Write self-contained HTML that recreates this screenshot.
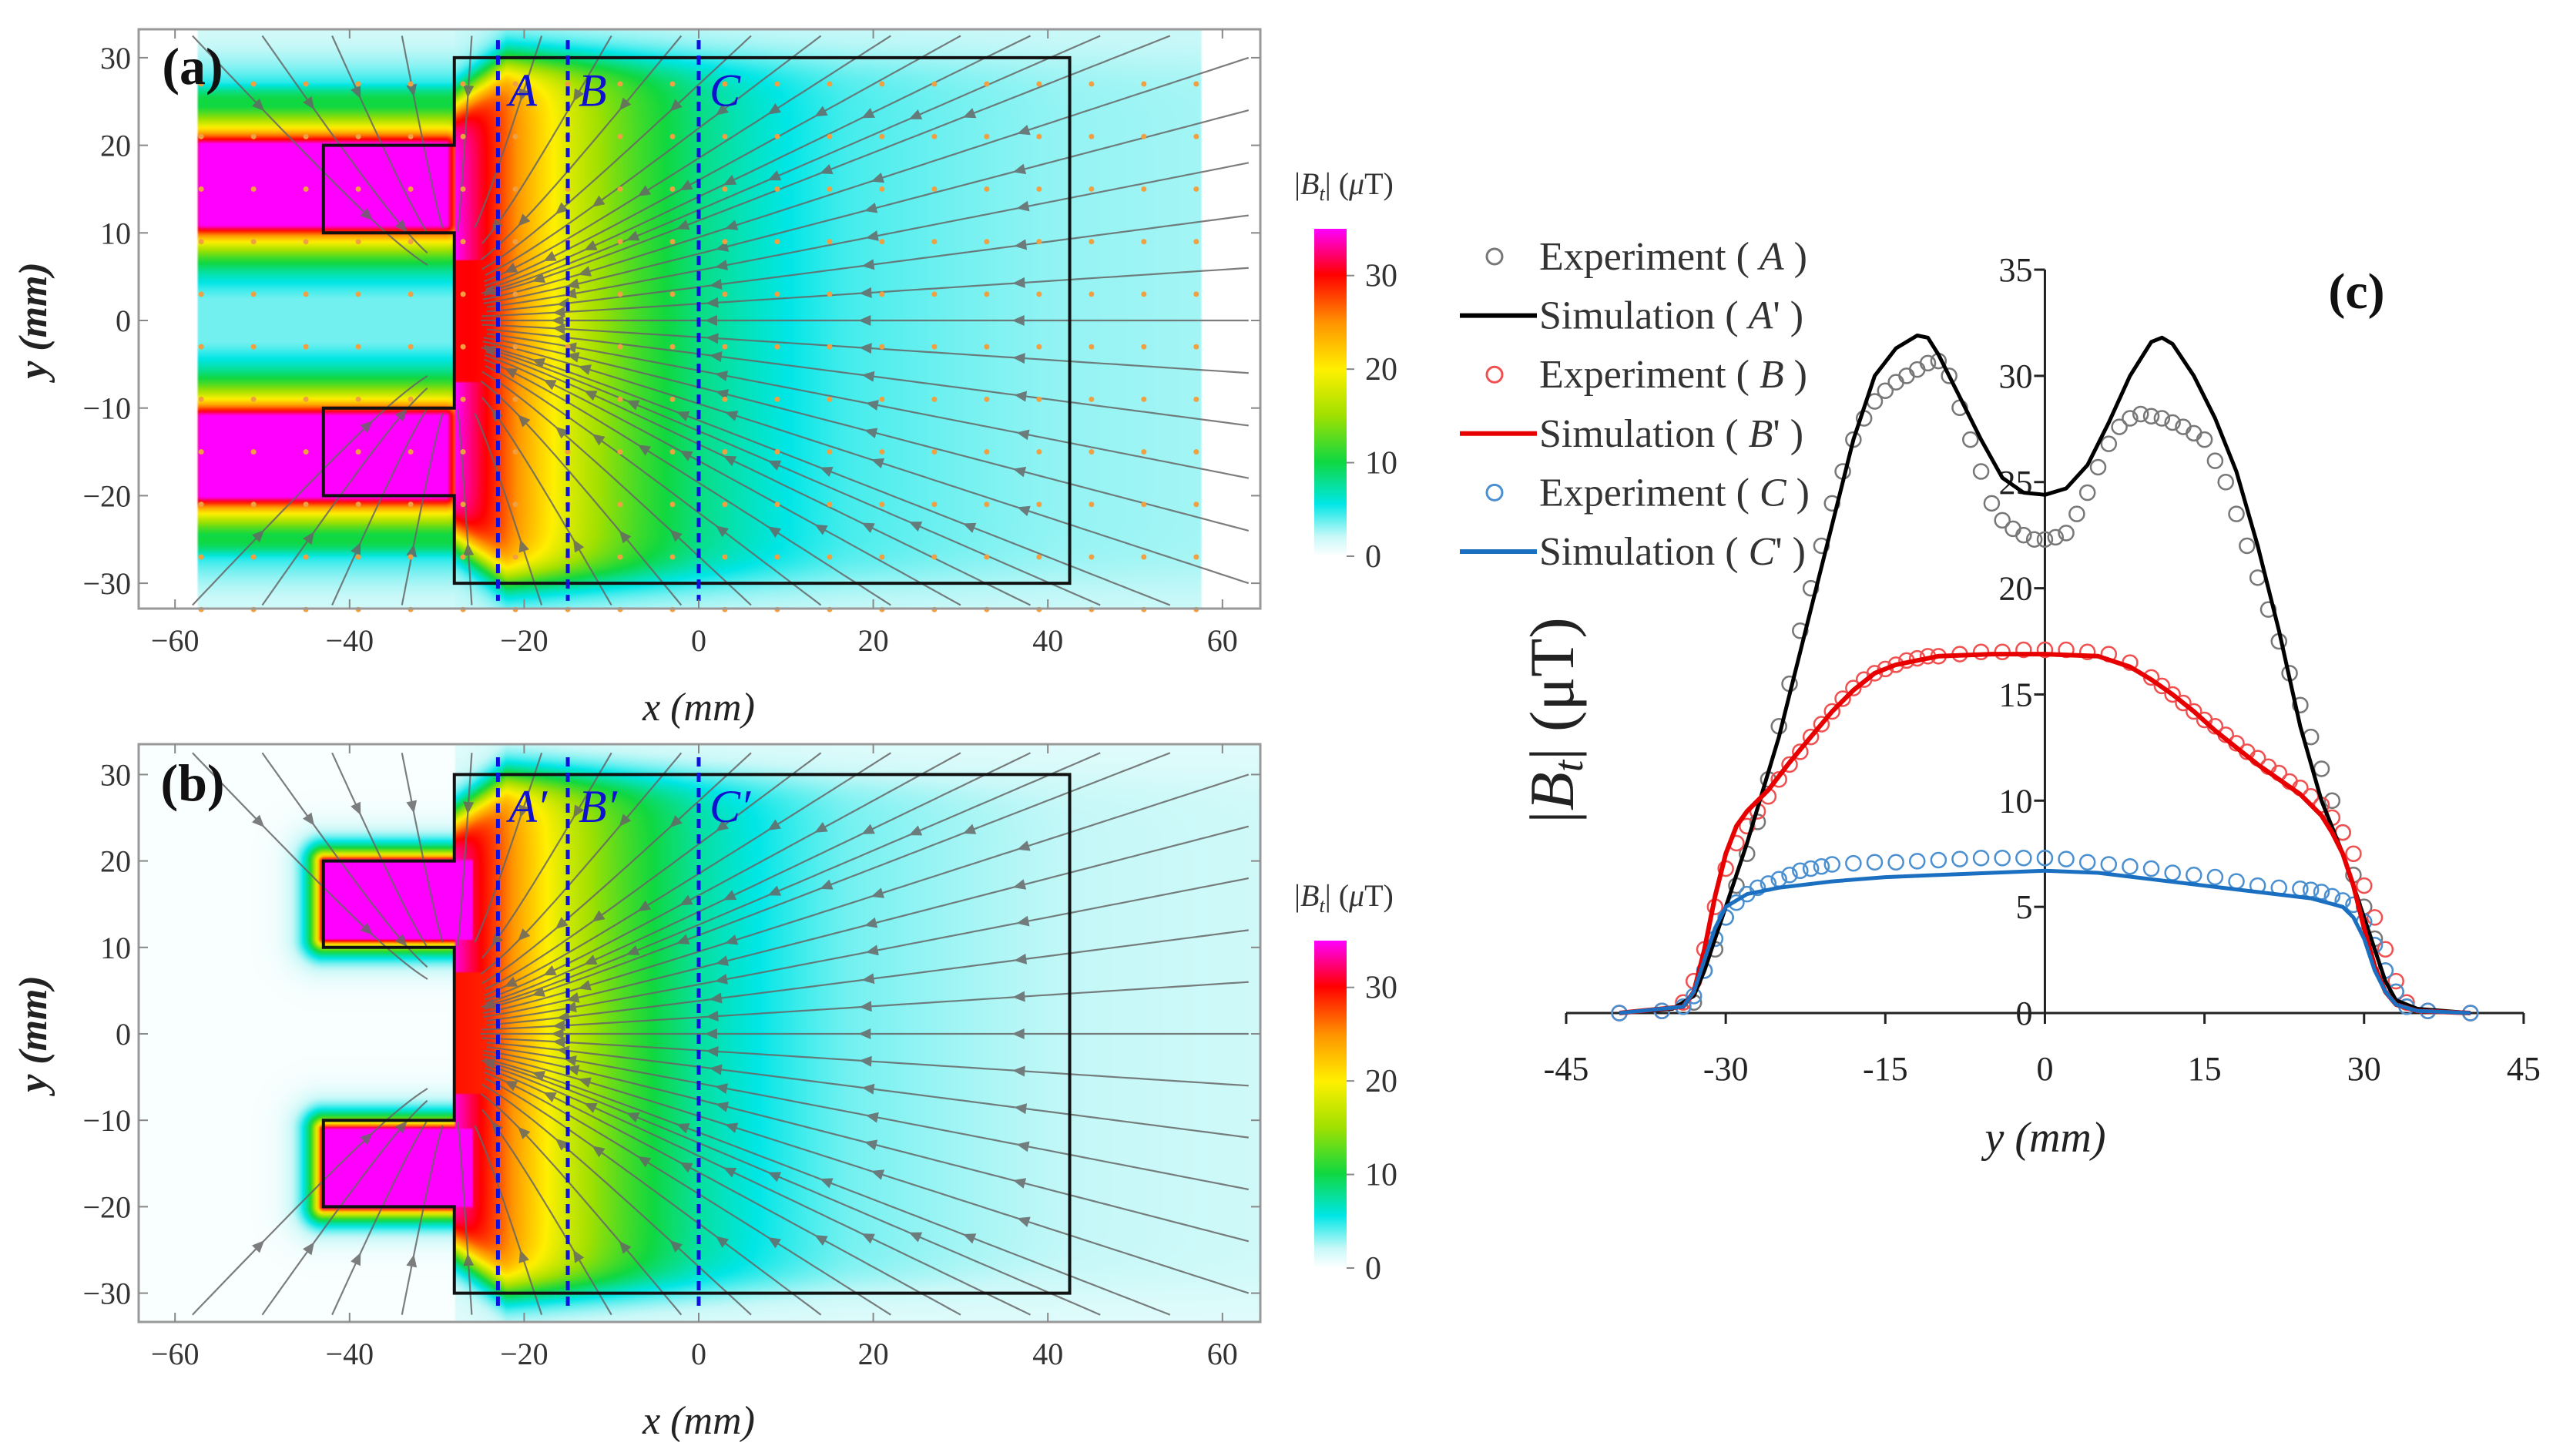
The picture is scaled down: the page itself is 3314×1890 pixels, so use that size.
<!DOCTYPE html>
<html><head><meta charset="utf-8">
<style>
html,body{margin:0;padding:0;background:#fff;}
#wrap{position:relative;width:3314px;height:1890px;overflow:hidden;font-family:"Liberation Serif",serif;}
canvas{position:absolute;}
svg{position:absolute;left:0;top:0;}
</style></head>
<body>
<div id="wrap">
<canvas id="ca" width="514" height="266" style="left:180px;top:38px;width:1456px;height:752px;"></canvas>
<canvas id="cb" width="514" height="266" style="left:180px;top:966px;width:1456px;height:750px;"></canvas>
<svg id="svg" width="3314" height="1890" viewBox="0 0 3314 1890" xmlns="http://www.w3.org/2000/svg">
<defs>
<linearGradient id="cbar" x1="0" y1="1" x2="0" y2="0">
<stop offset="0" stop-color="#ffffff"/>
<stop offset="0.06" stop-color="#c8f8f8"/>
<stop offset="0.16" stop-color="#00e6e6"/>
<stop offset="0.29" stop-color="#10d840"/>
<stop offset="0.43" stop-color="#a0e000"/>
<stop offset="0.57" stop-color="#fff000"/>
<stop offset="0.71" stop-color="#ff9600"/>
<stop offset="0.86" stop-color="#ff0000"/>
<stop offset="1" stop-color="#ff00ff"/>
</linearGradient>
</defs>
<g id="ga"></g>
<g id="gb"></g>
<g id="gc"></g>
</svg>
</div>
<script>
// ---------- panel c data ----------
const simAy=[-40,-35,-33,-32,-31,-30,-28,-25,-22,-20,-18,-16,-14,-12,-11,-10,-8,-6,-4,-2,0,2,4,6,8,10,11,12,14,16,18,20,22,24,26,28,30,31,32,33,35,40];
const simAv=[0,0.2,0.8,2,3.5,5,8,13,19,23,27,30,31.3,31.9,31.8,31,29,27,25.2,24.5,24.4,24.7,25.8,27.8,30,31.6,31.8,31.5,30,28,25.5,22,18,13.5,10,7.5,4.5,3,1.5,0.6,0.2,0];
const expAy=[-40,-36,-34,-33,-32,-31,-30,-29,-28,-27,-26,-25,-24,-23,-22,-21,-20,-19,-18,-17,-16,-15,-14,-13,-12,-11,-10,-9,-8,-7,-6,-5,-4,-3,-2,-1,0,1,2,3,4,5,6,7,8,9,10,11,12,13,14,15,16,17,18,19,20,21,22,23,24,25,26,27,28,29,30,31,32,33,34,36,40];
const expAv=[0,0.1,0.3,0.5,2,3,4.5,6,7.5,9,11,13.5,15.5,18,20,22,24,25.5,27,28,28.8,29.3,29.7,30,30.3,30.6,30.7,30,28.5,27,25.5,24,23.2,22.8,22.5,22.3,22.3,22.4,22.6,23.5,24.5,25.7,26.8,27.6,28,28.2,28.1,28,27.8,27.6,27.3,27,26,25,23.5,22,20.5,19,17.5,16,14.5,13,11.5,10,8.5,6.5,5,3.5,2,1,0.3,0.1,0];
const simBy=[-40,-34,-33,-32,-31,-30,-29,-28,-26,-24,-22,-20,-18,-16,-14,-12,-10,-5,0,5,8,10,12,14,16,18,20,22,24,26,27,28,29,30,31,32,33,35,40];
const simBv=[0,0.3,1,3,5.5,7.5,8.8,9.5,10.5,11.8,13,14.2,15.2,16,16.4,16.6,16.8,16.9,16.9,16.8,16.3,15.7,15,14.2,13.3,12.5,11.7,11,10.3,9.3,8.5,7.5,6,4,2.2,1,0.4,0.1,0];
const expBy=[-40,-36,-34,-33,-32,-31,-30,-29,-28,-27,-26,-25,-24,-23,-22,-21,-20,-19,-18,-17,-16,-15,-14,-13,-12,-11,-10,-8,-6,-4,-2,0,2,4,6,8,10,11,12,13,14,15,16,17,18,19,20,21,22,23,24,25,26,27,28,29,30,31,32,33,34,36,40];
const expBv=[0,0.1,0.5,1.5,3,5,6.8,8,8.8,9.5,10.2,11,11.7,12.3,13,13.6,14.2,14.8,15.3,15.7,16,16.2,16.4,16.6,16.7,16.8,16.8,16.9,17,17,17.1,17.1,17.1,17,16.9,16.5,15.8,15.4,15,14.6,14.2,13.8,13.5,13.1,12.7,12.3,12,11.6,11.3,10.9,10.6,10.2,9.8,9.2,8.5,7.5,6,4.5,3,1.5,0.5,0.1,0];
const simCy=[-40,-34,-33,-32,-31,-30,-28,-25,-20,-15,-10,-5,0,5,10,15,20,25,28,29,30,31,32,33,35,40];
const simCv=[0,0.3,1,2.5,4,5,5.6,5.9,6.2,6.4,6.5,6.6,6.7,6.6,6.3,6,5.7,5.4,5,4.5,3.5,2,1,0.4,0.1,0];
const expCy=[-40,-36,-34,-33,-32,-31,-30,-29,-28,-27,-26,-25,-24,-23,-22,-21,-20,-18,-16,-14,-12,-10,-8,-6,-4,-2,0,2,4,6,8,10,12,14,16,18,20,22,24,25,26,27,28,29,30,31,32,33,34,36,40];
const expCv=[0,0.1,0.3,0.8,2,3.5,4.5,5.2,5.6,5.9,6.1,6.3,6.5,6.7,6.8,6.9,7,7.05,7.1,7.1,7.15,7.2,7.25,7.3,7.3,7.3,7.3,7.25,7.1,7,6.9,6.8,6.6,6.5,6.4,6.2,6,5.9,5.85,5.8,5.7,5.5,5.3,5.1,4.3,3.2,2,1,0.3,0.1,0];
const cxTicks=[-45,-30,-15,0,15,30,45];
const cyTicks=[0,5,10,15,20,25,30,35];
const mapXTicks=[-60,-40,-20,0,20,40,60];
const mapYTicks=[30,20,10,0,-10,-20,-30];
const cbarTicks=[0,10,20,30];
const lineXs=[-23,-15,0];
// field decay vs distance from magnet face (mm -> uT)
const decayD=[0,5,13,28,45,70,95];
const decayV=[34,27,17,7,3,1.6,1.2];

const NS="http://www.w3.org/2000/svg";
function el(tag,attrs,parent,text){const e=document.createElementNS(NS,tag);for(const k in attrs)e.setAttribute(k,attrs[k]);if(text!==undefined)e.textContent=text;parent.appendChild(e);return e;}

// ---------- panel c ----------
const gc=document.getElementById('gc');
const CX=v=>2033+(v+45)*13.81;
const CY=v=>1315-v*27.57;
let ax=el('line',{x1:2033,y1:1315,x2:3276,y2:1315,stroke:'#222','stroke-width':3},gc);

let ay=el('line',{x1:CX(0),y1:1315,x2:CX(0),y2:CY(35),stroke:'#222','stroke-width':3},gc);

cxTicks.forEach(t=>{
  const l=el('line',{x1:CX(t),y1:1315,x2:CX(t),y2:1329,stroke:'#222','stroke-width':3},gc);
  
  const tx=el('text',{x:CX(t),y:1402,'font-size':44,'text-anchor':'middle',fill:'#222'},gc,String(t));
  
});
cyTicks.forEach(t=>{
  const l=el('line',{x1:CX(0)-14,y1:CY(t),x2:CX(0),y2:CY(t),stroke:'#222','stroke-width':3},gc);
  
  const tx=el('text',{x:CX(0)-16,y:CY(t)+15,'font-size':44,'text-anchor':'end',fill:'#222'},gc,String(t));
  
});
function circles(xs,vs,col,name){
  const g=el('g',{},gc);
  xs.forEach((x,i)=>{const c=el('circle',{cx:CX(x),cy:CY(vs[i]),r:9.5,fill:'none',stroke:col,'stroke-width':2.5},g);
  });
}
function line(xs,vs,col,w,name){
  const d=xs.map((x,i)=>(i?'L':'M')+CX(x).toFixed(1)+','+CY(vs[i]).toFixed(1)).join('');
  const p=el('path',{d:d,fill:'none',stroke:col,'stroke-width':w,'stroke-linejoin':'round'},gc);
  
}
circles(expAy,expAv,'#777','experiment-a');
circles(expBy,expBv,'#f05050','experiment-b');
circles(expCy,expCv,'#4a8fd0','experiment-c');
line(simAy,simAv,'#000',5,'simulation-a-line');
line(simBy,simBv,'#e80000',6,'simulation-b-line');
line(simCy,simCv,'#1a6fc0',5,'simulation-c-line');
const leg=[['c','#777','Experiment','A',''],['l','#000','Simulation','A','\''],['c','#f05050','Experiment','B',''],['l','#e80000','Simulation','B','\''],['c','#4a8fd0','Experiment','C',''],['l','#1a6fc0','Simulation','C','\'']];
leg.forEach((r,i)=>{
  const y=333+i*76.6;
  const g=el('g',{},gc);
  if(r[0]=='c') el('circle',{cx:1940,cy:y,r:10,fill:'none',stroke:r[1],'stroke-width':3},g);
  else el('line',{x1:1895,y1:y,x2:1995,y2:y,stroke:r[1],'stroke-width':6},g);
  const t=el('text',{x:1998,y:y+17,'font-size':52,fill:'#333'},g);
  t.innerHTML=r[2]+' ( <tspan font-style="italic">'+r[3]+'</tspan>'+r[4]+' )';
});
let ct=el('text',{x:0,y:0,'font-size':82,fill:'#222',transform:'translate(2042,935) rotate(-90)','text-anchor':'middle'},gc);
ct.innerHTML='|<tspan font-style="italic">B</tspan><tspan font-style="italic" font-size="55" dy="12">t</tspan><tspan dy="-12">| (μT)</tspan>';

let cxt=el('text',{x:2655,y:1495,'font-size':56,'font-style':'italic','text-anchor':'middle',fill:'#222'},gc,'y (mm)');

let cl=el('text',{x:3059,y:400,'font-size':66,'font-weight':'bold','text-anchor':'middle',fill:'#111'},gc,'(c)');


// ---------- heatmap panels ----------
function cmap(v){
  const st=[[0,[255,255,255]],[2,[200,248,248]],[5.5,[0,230,230]],[10,[16,216,64]],[15,[160,224,0]],[20,[255,240,0]],[25,[255,150,0]],[30,[255,0,0]],[35,[255,0,255]]];
  if(v<=0)return st[0][1];if(v>=35)return st[8][1];
  for(let i=1;i<st.length;i++){if(v<=st[i][0]){const a=st[i-1],b=st[i];const t=(v-a[0])/(b[0]-a[0]);return a[1].map((c,k)=>c+(b[1][k]-c)*t);}}
}
function decay(d){
  for(let i=1;i<decayD.length;i++){if(d<=decayD[i]){const t=(d-decayD[i-1])/(decayD[i]-decayD[i-1]);return Math.exp(Math.log(decayV[i-1])+(Math.log(decayV[i])-Math.log(decayV[i-1]))*t);}}
  return decayV[decayV.length-1];
}
function rectDist(x,y,x0,x1,y0,y1){const dx=Math.max(x0-x,0,x-x1),dy=Math.max(y0-y,0,y-y1);return Math.hypot(dx,dy);}
function field(x,y,exp){
  const xl=exp?-57:-43, xr=exp?-29:-26;
  const d=Math.min(rectDist(x,y,xl,xr,11,20),rectDist(x,y,xl,xr,-20,-11));
  const halo=36*Math.exp(-d/(exp?3.2:1.2));
  let base=0;
  if(x>-28){const dd=x+28;const w=29.5-Math.max(0,6-dd)*0.8;const v=1/(1+Math.exp((Math.abs(y)-w)/1.3));
    const face=(dd<4&&Math.abs(y)<7)?(1-0.15*(1-dd/4)):1;
    base=decay(dd)*v*face+0.6*(1-v)+0.3;}
  let val=Math.max(base,halo)+(exp?1.0:0.2);
  if(exp){
    if(x<-28&&Math.abs(y)>22&&Math.abs(y)<29)val=Math.max(val,10*Math.exp(-Math.pow((Math.abs(y)-25)/2.5,2)));
    if(x<-28&&Math.abs(y)<8)val=Math.max(val,3.5);
    if(Math.abs(x)>57.5)val=0;
  }
  return val;
}
function drawHeat(id,top,h,exp,ymm){
  const c=document.getElementById(id),ctx=c.getContext('2d');const W=c.width,H=c.height;
  const img=ctx.createImageData(W,H);
  for(let j=0;j<H;j++)for(let i=0;i<W;i++){
    const px=180+(i+0.5)*1456/W, py=top+(j+0.5)*h/H;
    const x=(px-907)/11.33, y=ymm(py);
    const col=cmap(field(x,y,exp));const k=(j*W+i)*4;
    img.data[k]=col[0];img.data[k+1]=col[1];img.data[k+2]=col[2];img.data[k+3]=255;
  }
  ctx.putImageData(img,0,0);
}
drawHeat('ca',38,752,true,py=>(416-py)/11.37);
drawHeat('cb',966,750,false,py=>(1342-py)/11.22);

function mapPanel(gid,Y,top,bot,label,exp,lblA,cbTop,cbBot){
  const g=document.getElementById(gid);
  const X=x=>907+x*11.33;
  const sl=el('g',{fill:'none',stroke:'#666','stroke-width':2.2,opacity:0.85},g);
  
  const src=[];for(let s=-9;s<=9;s+=1)src.push([-28,s]);
  const dir=(x,y)=>{let fx=0,fy=0;src.forEach(p=>{const dx=p[0]-x,dy=p[1]-y,r2=dx*dx+dy*dy+0.5;fx+=dx/r2;fy+=dy/r2;});const n=Math.hypot(fx,fy)||1;return[fx/n,fy/n];};
  const seeds=[];
  for(let s=-30;s<=30;s+=6)seeds.push([63,s]);
  for(let s=-58;s<=60;s+=8){seeds.push([s,32.5]);seeds.push([s,-32.5]);}
  seeds.forEach(sd=>{
    let x=sd[0],y=sd[1];const pts=[[x,y]];
    for(let k=0;k<300;k++){const d=dir(x,y);x+=d[0]*0.8;y+=d[1]*0.8;if(Math.abs(x+28)<3&&Math.abs(y)<10)break;if(x<-64||x>64||Math.abs(y)>33)break;pts.push([x,y]);}
    if(pts.length<4)return;
    const p=el('path',{d:pts.map((q,i)=>(i?'L':'M')+X(q[0]).toFixed(1)+','+Y(q[1]).toFixed(1)).join('')},sl);
    
    for(let m=Math.floor(pts.length*0.3);m<pts.length-1;m+=22){
      const a=pts[m],b=pts[m+1];const ang=Math.atan2(Y(b[1])-Y(a[1]),X(b[0])-X(a[0]))*180/Math.PI;
      const ar=el('path',{d:'M8,0 L-8,-7 L-8,7 Z',fill:'#666',stroke:'none',transform:'translate('+X(a[0]).toFixed(1)+','+Y(a[1]).toFixed(1)+') rotate('+ang.toFixed(1)+')'},sl);
      
    }
  });
  if(exp){const dg=el('g',{fill:'#f0a040'},g);
    for(let xx=-57;xx<=57;xx+=6)for(let yy=27;yy>=-33;yy-=6){const c=el('circle',{cx:X(xx),cy:Y(yy),r:3.5},dg);}}
  const o=[[-28,30],[-28,20],[-43,20],[-43,10],[-28,10],[-28,-10],[-43,-10],[-43,-20],[-28,-20],[-28,-30],[42.5,-30],[42.5,30]];
  const op=el('path',{d:o.map((q,i)=>(i?'L':'M')+X(q[0])+','+Y(q[1])).join('')+'Z',fill:'none',stroke:'#111','stroke-width':4},g);
  
  lineXs.forEach((lx,i)=>{
    const l=el('line',{x1:X(lx),y1:Y(32),x2:X(lx),y2:Y(-32),stroke:'#1010e0','stroke-width':5,'stroke-dasharray':'12,8'},g);
    
    const t=el('text',{x:X(lx)+14,y:Y(24.5),'font-size':60,'font-style':'italic',fill:'#1010d0'},g,lblA[i]);
    
  });
  const fr=el('rect',{x:180,y:top,width:1456,height:bot-top,fill:'none',stroke:'#999','stroke-width':3},g);
  
  mapXTicks.forEach(t=>{
    el('line',{x1:X(t),y1:bot,x2:X(t),y2:bot-12,stroke:'#888','stroke-width':2},g);
    el('line',{x1:X(t),y1:top,x2:X(t),y2:top+12,stroke:'#888','stroke-width':2},g);
    const tx=el('text',{x:X(t),y:bot+55,'font-size':40,'text-anchor':'middle',fill:'#333'},g,t<0?'−'+(-t):String(t));
    
  });
  mapYTicks.forEach(t=>{
    el('line',{x1:180,y1:Y(t),x2:192,y2:Y(t),stroke:'#888','stroke-width':2},g);
    el('line',{x1:1636,y1:Y(t),x2:1624,y2:Y(t),stroke:'#888','stroke-width':2},g);
    const tx=el('text',{x:170,y:Y(t)+14,'font-size':40,'text-anchor':'end',fill:'#333'},g,t<0?'−'+(-t):String(t));
    
  });
  const xt=el('text',{x:907,y:bot+145,'font-size':52,'font-style':'italic','text-anchor':'middle',fill:'#222'},g,'x (mm)');
  
  const yt=el('text',{x:0,y:0,'font-size':52,'font-style':'italic','font-weight':'bold','text-anchor':'middle',fill:'#222',transform:'translate(60,'+Y(0)+') rotate(-90)'},g,'y (mm)');
  
  const pl=el('text',{x:250,y:Y(27),'font-size':68,'font-weight':'bold','text-anchor':'middle',fill:'#111'},g,label);
  
  const cb=el('rect',{x:1706,y:cbTop,width:42,height:cbBot-cbTop,fill:'url(#cbar)'},g);
  
  cbarTicks.forEach(t=>{const yy=cbBot-(cbBot-cbTop)*t/35;
    el('line',{x1:1748,y1:yy,x2:1758,y2:yy,stroke:'#888','stroke-width':2},g);
    const tx=el('text',{x:1772,y:yy+14,'font-size':42,fill:'#333'},g,String(t));
    });
  const ctt=el('text',{x:1680,y:cbTop-45,'font-size':40,fill:'#333'},g);
  ctt.innerHTML='|<tspan font-style="italic">B</tspan><tspan font-style="italic" font-size="26" dy="8">t</tspan><tspan dy="-8">| (</tspan><tspan font-style="italic">μ</tspan>T)';
  
}
mapPanel('ga',y=>416-y*11.37,38,790,'(a)',true,['A','B','C'],297,722);
mapPanel('gb',y=>1342-y*11.22,966,1716,'(b)',false,['A′','B′','C′'],1221,1646);
</script>
</body></html>
